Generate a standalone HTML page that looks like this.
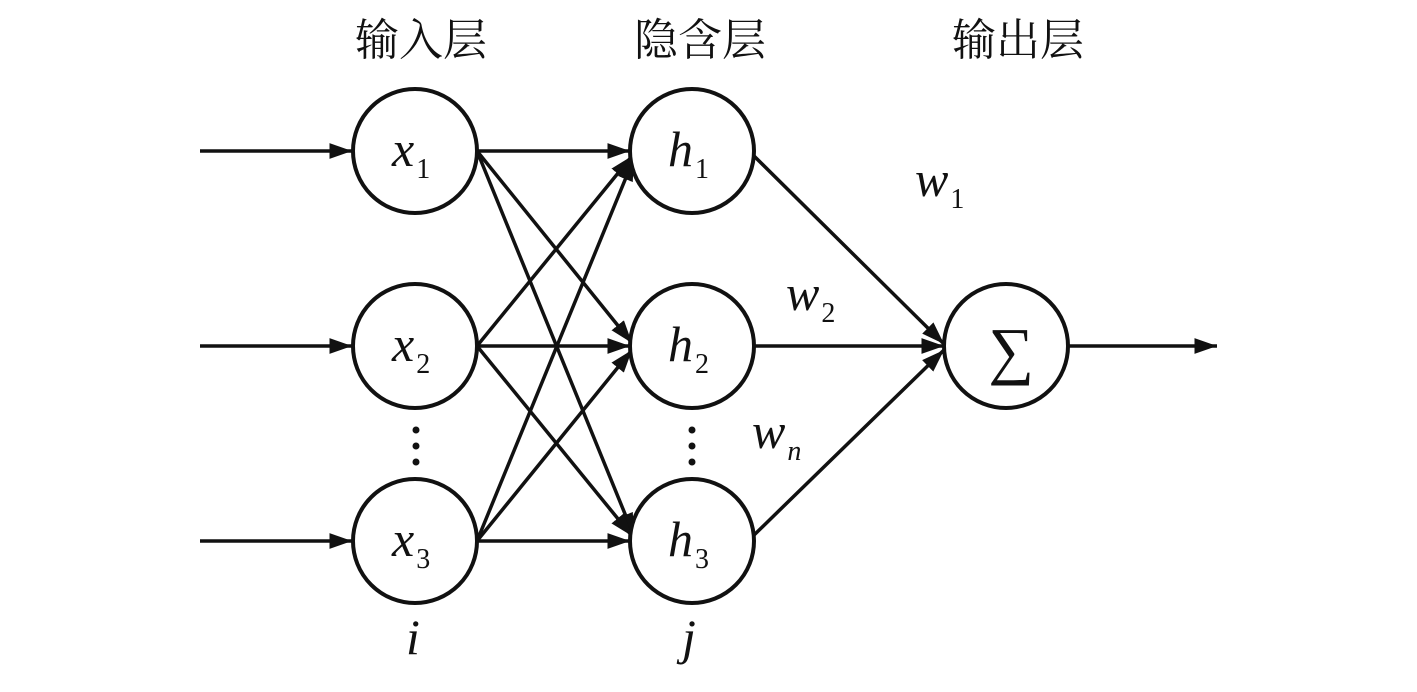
<!DOCTYPE html>
<html><head><meta charset="utf-8"><style>
html,body{margin:0;padding:0;background:#fff;}
svg{display:block}
.l{stroke:#111;stroke-width:3.5;fill:none}
.c{stroke:#111;stroke-width:4;fill:#fff}
.t{font-family:"Liberation Serif",serif;font-style:italic;font-size:50px;fill:#111}
.s{font-family:"Liberation Serif",serif;font-size:28px;fill:#111;font-style:normal}
.h{font-family:"Liberation Serif","Noto Serif CJK SC",serif;font-size:44px;fill:#111}
</style></head><body>
<svg width="1417" height="692" viewBox="0 0 1417 692">
<defs><marker id="a" viewBox="0 0 10 10" refX="10" refY="5" markerWidth="6.5" markerHeight="6.5" markerUnits="strokeWidth" orient="auto"><path d="M0,1.5 L10,5 L0,8.5 Z" fill="#111"/></marker></defs>
<text class="h" x="421" y="55" text-anchor="middle">输入层</text>
<text class="h" x="700" y="55" text-anchor="middle">隐含层</text>
<text class="h" x="1018" y="55" text-anchor="middle">输出层</text>
<g class="l" marker-end="url(#a)">
<line x1="200" y1="151" x2="352" y2="151"/>
<line x1="200" y1="346" x2="352" y2="346"/>
<line x1="200" y1="541" x2="352" y2="541"/>
<line x1="477" y1="151" x2="630" y2="151"/>
<line x1="477" y1="151" x2="632" y2="343"/>
<line x1="477" y1="151" x2="634" y2="536"/>
<line x1="477" y1="346" x2="632" y2="156"/>
<line x1="477" y1="346" x2="630" y2="346"/>
<line x1="477" y1="346" x2="632" y2="536"/>
<line x1="477" y1="541" x2="634" y2="158"/>
<line x1="477" y1="541" x2="632" y2="350"/>
<line x1="477" y1="541" x2="630" y2="541"/>
<line x1="752" y1="154" x2="944" y2="344"/>
<line x1="754" y1="346" x2="944" y2="346"/>
<line x1="752" y1="537" x2="944" y2="350"/>
<line x1="1068" y1="346" x2="1217" y2="346"/>
</g>
<g class="c">
<circle cx="415" cy="151" r="62"/><circle cx="415" cy="346" r="62"/><circle cx="415" cy="541" r="62"/>
<circle cx="692" cy="151" r="62"/><circle cx="692" cy="346" r="62"/><circle cx="692" cy="541" r="62"/>
<circle cx="1006" cy="346" r="62"/>
</g>
<text class="t" x="392" y="166">x<tspan class="s" dx="2" dy="12">1</tspan></text>
<text class="t" x="392" y="361">x<tspan class="s" dx="2" dy="12">2</tspan></text>
<text class="t" x="392" y="556">x<tspan class="s" dx="2" dy="12">3</tspan></text>
<text class="t" x="668" y="166">h<tspan class="s" dx="2" dy="12">1</tspan></text>
<text class="t" x="668" y="361">h<tspan class="s" dx="2" dy="12">2</tspan></text>
<text class="t" x="668" y="556">h<tspan class="s" dx="2" dy="12">3</tspan></text>
<text x="1011" y="372" text-anchor="middle" style="font-family:'Liberation Serif',serif;font-size:64px;fill:#111">∑</text>
<text class="t" x="915" y="196">w<tspan class="s" dx="2" dy="12">1</tspan></text>
<text class="t" x="786" y="310">w<tspan class="s" dx="2" dy="12">2</tspan></text>
<text class="t" x="752" y="448">w<tspan class="s" dx="2" dy="12" style="font-style:italic">n</tspan></text>
<g fill="#111">
<circle cx="416" cy="430" r="3.5"/><circle cx="416" cy="446" r="3.5"/><circle cx="416" cy="462" r="3.5"/>
<circle cx="692" cy="430" r="3.5"/><circle cx="692" cy="446" r="3.5"/><circle cx="692" cy="462" r="3.5"/>
</g>
<text class="t" x="406" y="654">i</text>
<text class="t" x="682" y="654">j</text>
</svg>
</body></html>
